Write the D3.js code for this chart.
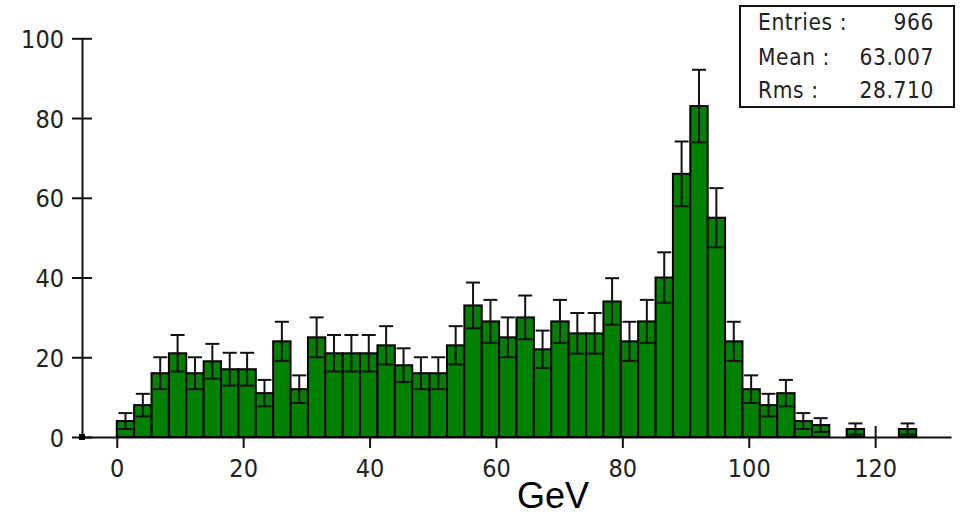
<!DOCTYPE html>
<html>
<head>
<meta charset="utf-8">
<script src="https://cdn.jsdelivr.net/npm/d3@7"></script>
<style>
  html, body { margin: 0; padding: 0; background: #fff; }
  svg { display: block; }
  .tick text { font-family: "DejaVu Sans Condensed", "DejaVu Sans", sans-serif; font-stretch: condensed; fill: #222; }
</style>
</head>
<body>
<svg id="chart" width="964" height="517"></svg>
<script>
// ---- data ----
const binWidth = 2.75;           // GeV per bin, first bin starts at 0
const counts = [4, 8, 16, 21, 16, 19, 17, 17, 11, 24, 12, 25, 21, 21, 21, 23, 18, 16, 16, 23,
                33, 29, 25, 30, 22, 29, 26, 26, 34, 24, 29, 40, 66, 83, 55, 24, 12, 8, 11, 4,
                3, 0, 2, 0, 0, 2];
const errors = [2.00, 2.83, 4.00, 4.58, 4.00, 4.36, 4.12, 4.12, 3.32, 4.90, 3.46, 5.00, 4.58, 4.58, 4.58, 4.80, 4.24, 4.00, 4.00, 4.80,
                5.74, 5.39, 5.00, 5.48, 4.69, 5.39, 5.10, 5.10, 5.83, 4.90, 5.39, 6.32, 8.12, 9.11, 7.42, 4.90, 3.46, 2.83, 3.32, 2.00,
                1.73, 0, 1.41, 0, 0, 1.41];
const xTicks = [0, 20, 40, 60, 80, 100, 120];
const yTicks = [0, 20, 40, 60, 80, 100];
const statsLabels = ["Entries :", "Mean :", "Rms :"];
const statsValues = ["966", "63.007", "28.710"];
const xTitle = "GeV";

// ---- layout ----
const svg = d3.select("#chart");
const x = d3.scaleLinear().domain([-5.5, 132]).range([82, 951]);
const y = d3.scaleLinear().domain([0, 100]).range([437, 38.3]);

// y axis
const yAxis = svg.append("g").attr("transform", `translate(${x(-5.5)},0)`)
  .call(d3.axisLeft(y).tickValues(yTicks).tickSizeInner(10).tickSizeOuter(0).tickPadding(8));
yAxis.select(".domain").attr("stroke", "#111").attr("stroke-width", 2);
yAxis.selectAll(".tick line").attr("x1", 10).attr("stroke", "#111").attr("stroke-width", 2);
yAxis.selectAll(".tick text").style("font-size", "25px").attr("dy", "0.36em");

// x axis
const xAxis = svg.append("g").attr("transform", `translate(0,${y(0)})`)
  .call(d3.axisBottom(x).tickValues(xTicks).tickSizeInner(11).tickSizeOuter(0).tickPadding(11));
xAxis.select(".domain").attr("stroke", "#111").attr("stroke-width", 2);
xAxis.selectAll(".tick line").attr("y1", -11).attr("stroke", "#111").attr("stroke-width", 2);
xAxis.selectAll(".tick text").style("font-size", "25px");

// origin marker
svg.append("rect").attr("x", x(-5.5) - 3).attr("y", y(0) - 3).attr("width", 6).attr("height", 6).attr("fill", "#000");

// bars
const bins = counts.map((c, i) => ({lo: i * binWidth, hi: (i + 1) * binWidth, c, e: errors[i]}))
  .filter(d => d.c > 0);
svg.append("g").selectAll("rect").data(bins).join("rect")
  .attr("x", d => x(d.lo))
  .attr("y", d => y(d.c))
  .attr("width", d => x(d.hi) - x(d.lo))
  .attr("height", d => y(0) - y(d.c))
  .attr("fill", "#008000")
  .attr("stroke", "#000")
  .attr("stroke-width", 2);

// error bars
const cap = 7;
const eg = svg.append("g").attr("stroke", "#111").attr("stroke-width", 2);
bins.forEach(d => {
  const cx = x((d.lo + d.hi) / 2);
  const top = y(d.c + d.e), bot = y(Math.max(0, d.c - d.e));
  eg.append("line").attr("x1", cx).attr("x2", cx).attr("y1", top).attr("y2", bot);
  eg.append("line").attr("x1", cx - cap).attr("x2", cx + cap).attr("y1", top).attr("y2", top);
  eg.append("line").attr("x1", cx - cap).attr("x2", cx + cap).attr("y1", bot).attr("y2", bot);
});

// x title
svg.append("text").attr("x", 553).attr("y", 508).attr("text-anchor", "middle")
  .style("font-family", "'Liberation Sans', Arial, sans-serif").style("font-size", "36px").attr("fill", "#000")
  .text(xTitle);

// stats box
const sb = svg.append("g");
sb.append("rect").attr("x", 740).attr("y", 6).attr("width", 214).attr("height", 101)
  .attr("fill", "#fff").attr("stroke", "#111").attr("stroke-width", 2);
const baselines = [30, 64.5, 97.5];
const statFont = "'DejaVu Sans Condensed', 'DejaVu Sans', sans-serif";
statsLabels.forEach((l, i) => {
  sb.append("text").attr("x", 758).attr("y", baselines[i]).text(l)
    .style("font-family", statFont).style("font-size", "22.5px").style("letter-spacing", "0.6px").attr("fill", "#222");
  sb.append("text").attr("x", 934).attr("y", baselines[i]).attr("text-anchor", "end").text(statsValues[i])
    .style("font-family", statFont).style("font-size", "22.5px").style("letter-spacing", "0.6px").attr("fill", "#222");
});
</script>
</body>
</html>
